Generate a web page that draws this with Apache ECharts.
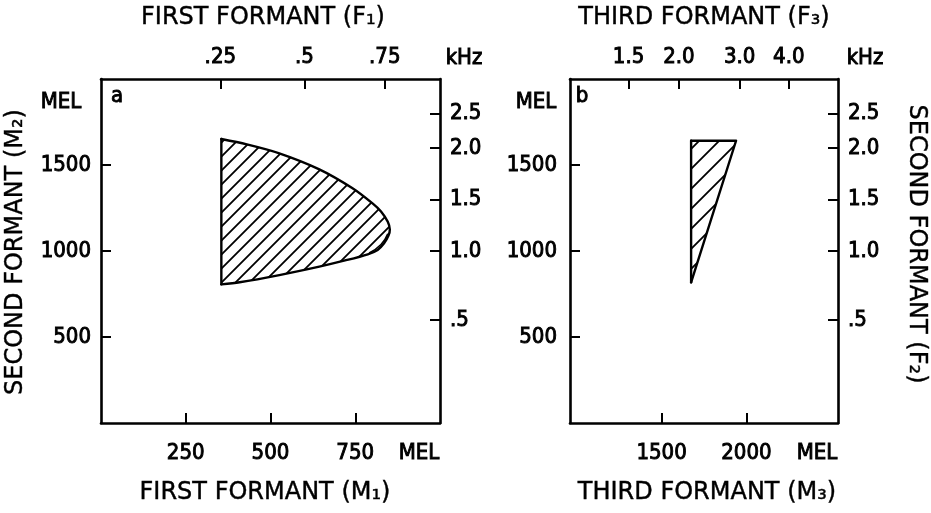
<!DOCTYPE html>
<html>
<head>
<meta charset="utf-8">
<title>Formant regions</title>
<script src="https://cdn.jsdelivr.net/npm/echarts@6/dist/echarts.min.js"></script>
<style>
  html, body { margin: 0; padding: 0; background: #fff; }
  #main { width: 931px; height: 513px; }
</style>
</head>
<body>
<div id="main"></div>
<script>
// tick values (mel) and the kHz labels that sit on them
var m1Ticks = [250, 500, 750];
var m2Ticks = [500, 1000, 1500];
var m3Ticks = [1500, 2000];
var f1TickMel = [352, 600, 837];
var f1TickKhz = ['.25', '.5', '.75'];
var f2TickMel = [600, 1000, 1300, 1600, 1800];
var f2TickKhz = ['.5', '1.0', '1.5', '2.0', '2.5'];
var f3TickMel = [1305, 1602, 1960, 2250];
var f3TickKhz = ['1.5', '2.0', '3.0', '4.0'];

// panel a: outline of the region in the M1 / M2 plane
// (first edge is the straight left side, the rest is the curved boundary)
var regionA_m1 = [355, 355, 409, 526, 644, 720, 787, 816, 835, 848, 852, 846, 826, 801, 742, 644, 526, 430, 355];
var regionA_m2 = [1651, 806, 818, 860, 909, 945, 981, 1006, 1045, 1090, 1125, 1170, 1230, 1277, 1365, 1475, 1568, 1620, 1651];
// the small inner line near the tip
var innerA_m1 = [846, 826, 791];
var innerA_m2 = [1100, 1038, 988];

// panel b: outline in the M3 / M2 plane
var regionB_m3 = [1674, 1674, 1939, 1674];
var regionB_m2 = [1641, 818, 1641, 1641];

var chart = echarts.init(document.getElementById('main'));

var TICK_FONT = "'DejaVu Sans Condensed', 'DejaVu Sans', sans-serif";
var TITLE_FONT = "'DejaVu Sans', sans-serif";

function hatch(step) {
  var c = document.createElement('canvas');
  c.width = step; c.height = step;
  var ctx = c.getContext('2d');
  ctx.strokeStyle = '#000';
  ctx.lineWidth = 1.8;
  ctx.beginPath();
  ctx.moveTo(-2, step + 2); ctx.lineTo(step + 2, -2);
  ctx.moveTo(-2, 2); ctx.lineTo(2, -2);
  ctx.moveTo(step - 2, step + 2); ctx.lineTo(step + 2, step - 2);
  ctx.stroke();
  return { image: c, repeat: 'repeat' };
}

function lookup(vals, labels) {
  return function (v) {
    for (var i = 0; i < vals.length; i++) {
      if (Math.abs(vals[i] - v) < 1e-6) return labels[i];
    }
    return '';
  };
}
function plain(v) { return String(v); }

function axis(grid, pos, min, max, ticks, fmt, margin) {
  return {
    type: 'value', gridIndex: grid, position: pos, min: min, max: max,
    axisLine: { show: true, onZero: false, lineStyle: { color: '#000', width: 2.6 } },
    axisTick: { show: true, inside: true, length: 10, customValues: ticks,
      lineStyle: { color: '#000', width: 2 } },
    axisLabel: { show: true, customValues: ticks, formatter: fmt, margin: margin,
      color: '#000', fontFamily: TICK_FONT, fontSize: 22,
      textBorderColor: '#000', textBorderWidth: 0.9 },
    splitLine: { show: false }
  };
}

function region(xi, yi, xs, ys, pattern, smooth) {
  return {
    type: 'custom', xAxisIndex: xi, yAxisIndex: yi, clip: true, silent: true,
    data: xs.map(function (x, i) { return [x, ys[i]]; }),
    renderItem: function (params, api) {
      if (params.dataIndex !== 0) return null;
      var pts = xs.map(function (x, i) { return api.coord([x, ys[i]]); });
      var line = { stroke: '#000', lineWidth: 2.4, lineJoin: 'round', lineCap: 'round', fill: null };
      return {
        type: 'group',
        children: [
          { type: 'polygon', shape: { points: pts }, style: { fill: pattern, stroke: null } },
          { type: 'polyline', shape: { points: pts.slice(1), smooth: smooth }, style: line },
          { type: 'line', shape: { x1: pts[0][0], y1: pts[0][1], x2: pts[1][0], y2: pts[1][1] }, style: line }
        ]
      };
    }
  };
}

function txt(x, y, s, font, border, rot) {
  return {
    type: 'text', x: x, y: y, rotation: rot || 0,
    style: { text: s, fill: '#000', align: 'center', verticalAlign: 'middle', font: font,
      stroke: '#000', lineWidth: border }
  };
}

var titleFont = '24px ' + TITLE_FONT;
var labelFont = '22px ' + TICK_FONT;

chart.setOption({
  animation: false,
  backgroundColor: '#fff',
  grid: [
    { left: 101, top: 79, width: 339, height: 344 },
    { left: 570, top: 79, width: 268, height: 344 }
  ],
  xAxis: [
    axis(0, 'bottom', 0, 1000, m1Ticks, plain, 19),
    axis(0, 'top', 0, 1000, f1TickMel, lookup(f1TickMel, f1TickKhz), 11),
    axis(1, 'bottom', 960, 2540, m3Ticks, plain, 19),
    axis(1, 'top', 960, 2540, f3TickMel, lookup(f3TickMel, f3TickKhz), 11)
  ],
  yAxis: [
    axis(0, 'left', 0, 2000, m2Ticks, plain, 10),
    axis(0, 'right', 0, 2000, f2TickMel, lookup(f2TickMel, f2TickKhz), 10),
    axis(1, 'left', 0, 2000, m2Ticks, plain, 13),
    axis(1, 'right', 0, 2000, f2TickMel, lookup(f2TickMel, f2TickKhz), 10)
  ],
  series: [
    region(0, 0, regionA_m1, regionA_m2, hatch(14), 0.3),
    {
      type: 'line', xAxisIndex: 0, yAxisIndex: 0, silent: true,
      data: innerA_m1.map(function (x, i) { return [x, innerA_m2[i]]; }),
      showSymbol: false, smooth: true,
      lineStyle: { color: '#000', width: 1.6 }
    },
    region(2, 2, regionB_m3, regionB_m2, hatch(20), 0)
  ],
  graphic: [
    txt(263, 18, 'FIRST FORMANT (F\u2081)', titleFont, 0.4),
    txt(704, 18, 'THIRD FORMANT (F\u2083)', titleFont, 0.4),
    txt(265, 493, 'FIRST FORMANT (M\u2081)', titleFont, 0.4),
    txt(707, 493, 'THIRD FORMANT (M\u2083)', titleFont, 0.4),
    txt(16, 252, 'SECOND FORMANT (M\u2082)', titleFont, 0.4, Math.PI / 2),
    txt(916, 244, 'SECOND FORMANT (F\u2082)', titleFont, 0.4, -Math.PI / 2),
    txt(464, 58, 'kHz', labelFont, 0.9),
    txt(865, 58, 'kHz', labelFont, 0.9),
    txt(61, 102, 'MEL', labelFont, 0.9),
    txt(536, 102, 'MEL', labelFont, 0.9),
    txt(419, 453, 'MEL', labelFont, 0.9),
    txt(817, 453, 'MEL', labelFont, 0.9),
    txt(117, 96, 'a', labelFont, 0.9),
    txt(582, 96, 'b', labelFont, 0.9)
  ]
});
</script>
</body>
</html>
